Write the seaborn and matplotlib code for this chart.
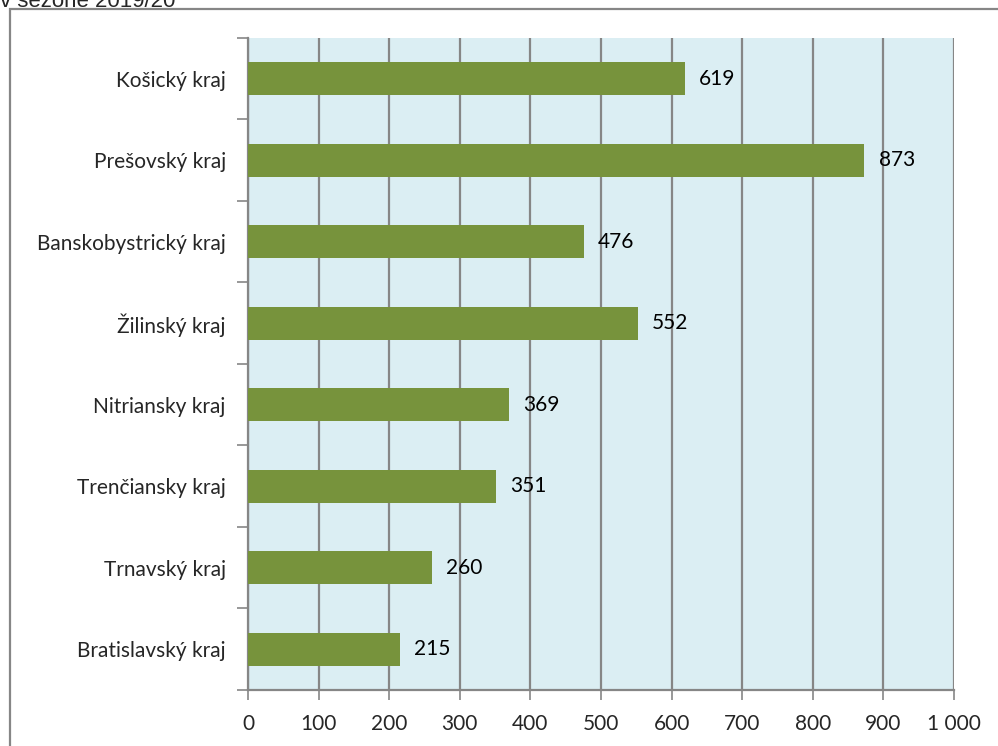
import matplotlib
matplotlib.use("Agg")
import matplotlib.pyplot as plt
import matplotlib.patches as mpatches
from matplotlib.ticker import FuncFormatter, MultipleLocator
import seaborn as sns
import pandas as pd

regions = ["Košický kraj", "Prešovský kraj", "Banskobystrický kraj", "Žilinský kraj",
           "Nitriansky kraj", "Trenčiansky kraj", "Trnavský kraj", "Bratislavský kraj"]
counts = [619, 873, 476, 552, 369, 351, 260, 215]
title_text = "v sezóne 2019/20"

df = pd.DataFrame({"kraj": regions, "pocet": counts})

sns.set_style("white")
plt.rcParams["font.family"] = ["Lato", "DejaVu Sans"]

fig = plt.figure(figsize=(9.98, 7.46), dpi=100)
ax = fig.add_axes([0.2485, 0.0751, 0.7075, 0.874])

grey = "#868686"
fs = 15
ax.set_facecolor("#DBEEF3")
sns.barplot(data=df, y="kraj", x="pocet", orient="h", color="#77933C",
            width=0.4, saturation=1, linewidth=0, edgecolor="none", ax=ax, zorder=3)

ax.set_xlim(0, 1000)
ax.set_ylim(len(regions) - 0.5, -0.5)
ax.xaxis.set_major_locator(MultipleLocator(100))
ax.xaxis.set_major_formatter(FuncFormatter(lambda v, p: f"{int(v):,}".replace(",", " ")))
ax.grid(axis="x", color=grey, linewidth=1.6, zorder=1)
ax.set_axisbelow(True)

# category boundary ticks on the y axis
ax.set_yticks([i - 0.5 for i in range(len(regions) + 1)], minor=True)
ax.tick_params(axis="y", which="minor", length=8, width=1.2, color=grey, direction="out", left=True)
ax.tick_params(axis="y", which="major", length=0, labelsize=fs, pad=16)
ax.tick_params(axis="x", which="major", length=7, width=1.2, color=grey, direction="out",
               bottom=True, labelsize=fs, pad=10)

for s in ["top", "right"]:
    ax.spines[s].set_visible(False)
for s in ["left", "bottom"]:
    ax.spines[s].set_color(grey)
    ax.spines[s].set_linewidth(1.6)

ax.set_xlabel("")
ax.set_ylabel("")

for i, v in enumerate(counts):
    ax.text(v + 20, i, str(v), va="center", ha="left", fontsize=fs, color="black", zorder=4)

# outer frame and clipped title line
fig.patches.append(mpatches.Rectangle((10 / 998, -0.05), 1.1, 1 - 9 / 746 + 0.05,
                                      transform=fig.transFigure, fill=False,
                                      edgecolor=grey, linewidth=1.6))
fig.text(0.0, 1.0 + 0.012, title_text, ha="left", va="top", fontsize=16,
         family=["Liberation Sans", "DejaVu Sans"])

fig.savefig("out.png", dpi=100)
